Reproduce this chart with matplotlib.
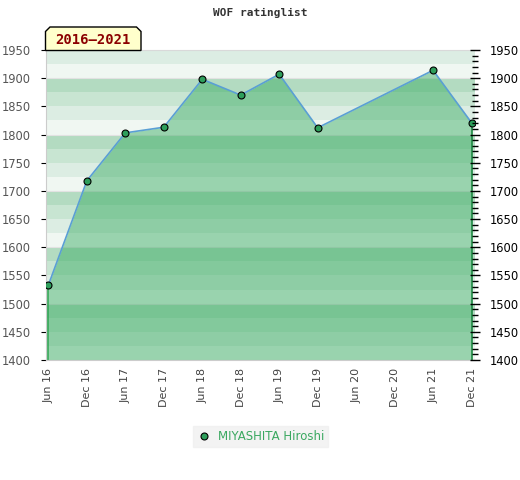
import matplotlib
matplotlib.use("Agg")
import matplotlib.pyplot as plt
from matplotlib.patches import Polygon
from matplotlib.ticker import MultipleLocator

periods = ["Jun 16", "Dec 16", "Jun 17", "Dec 17", "Jun 18", "Dec 18",
           "Jun 19", "Dec 19", "Jun 20", "Dec 20", "Jun 21", "Dec 21"]
data_periods = ["Jun 16", "Dec 16", "Jun 17", "Dec 17", "Jun 18", "Dec 18",
                "Jun 19", "Dec 19", "Jun 21", "Dec 21"]
ratings = [1533, 1718, 1803, 1813, 1898, 1870, 1907, 1812, 1914, 1821]
player = "MIYASHITA Hiroshi"
title = "WOF ratinglist"
range_label = "2016\u20132021"
y_ticks = [1400, 1450, 1500, 1550, 1600, 1650, 1700, 1750, 1800, 1850, 1900, 1950]

W, H = 520, 480
fig = plt.figure(figsize=(W / 100, H / 100), dpi=100)
ax = fig.add_axes([45.7 / W, 1 - 360 / H, (475 - 45.7) / W, (360 - 50) / H])

xs = [periods.index(p) for p in data_periods]
ymin, ymax = 1400, 1950
ax.set_xlim(-0.07, len(periods) - 1 + 0.09)
ax.set_ylim(ymin, ymax)

band_cols = {0: "#f0f7f2", 25: "#dcede3", 50: "#c8e5d2", 75: "#b3dbc1"}
b = ymin
while b < ymax:
    ax.axhspan(b, b + 25, color=band_cols[b % 100], lw=0, zorder=0)
    b += 25
for g in range(ymin, ymax + 1, 100):
    ax.axhline(g, color="#e2e2e2", lw=0.8, zorder=0.5)

ax.fill_between(xs, ratings, ymin, color="#30a85b", alpha=0.45, lw=0, zorder=1)
ax.vlines(xs[0], ymin, ratings[0], color="#2aa34f", lw=1.2, zorder=2)
ax.vlines(xs[-1], ymin, ratings[-1], color="#1f8a44", lw=1.2, zorder=2)
ax.plot(xs, ratings, color="#5a9fd4", lw=1.2, zorder=3)
ax.plot(xs, ratings, ls="none", marker="o", ms=5, mfc="#2e9e5b", mec="black",
        mew=0.8, zorder=4, label=player)

ax.set_xticks(range(len(periods)))
ax.set_xticklabels(periods, rotation=90, fontsize=8, color="#444444")
ax.set_yticks(y_ticks)
ax.tick_params(axis="y", left=False, labelsize=8.3, labelcolor="#555555", pad=7)
ax.tick_params(axis="x", length=0, pad=6)

for s in ["top", "right"]:
    ax.spines[s].set_visible(False)
ax.spines["top"].set_visible(True)
ax.spines["top"].set_color("#d9d9d9")
ax.spines["left"].set_color("#cccccc")
ax.spines["bottom"].set_color("#cccccc")

ax2 = ax.twinx()
ax2.set_ylim(ymin, ymax)
ax2.set_yticks(y_ticks)
ax2.yaxis.set_minor_locator(MultipleLocator(10))
ax2.tick_params(axis="y", which="major", direction="inout", length=7, width=1,
                labelsize=8.3, labelcolor="black", color="black", pad=7)
ax2.tick_params(axis="y", which="minor", direction="inout", length=4, width=1,
                color="black")
for s in ax2.spines.values():
    s.set_visible(False)

fig.text(260 / W, 1 - 13 / H, title, ha="center", va="center",
         family="DejaVu Sans Mono", fontsize=8, fontweight="bold", color="#333333")

l, r, t, bt, c = 45.5, 141, 27, 50.5, 4.5
pts = [(l, bt), (l, t + c), (l + c, t), (r - c, t), (r, t + c), (r, bt)]
poly = Polygon([(x / W, 1 - y / H) for x, y in pts], closed=True,
               transform=fig.transFigure, facecolor="#ffffcc", edgecolor="black",
               lw=1, zorder=5)
fig.add_artist(poly)
fig.text((l + r) / 2 / W, 1 - 40 / H, range_label, ha="center", va="center",
         family="DejaVu Sans Mono", fontsize=10, fontweight="bold",
         color="#8b0000", zorder=6)

leg = fig.legend(loc="center", bbox_to_anchor=(260.5 / W, 1 - 436.5 / H),
                 frameon=True, fontsize=8.5, handletextpad=0.6, borderpad=0.35,
                 handlelength=1.2, fancybox=False)
leg.get_frame().set_facecolor("#f0f0f0")
leg.get_frame().set_edgecolor("#f0f0f0")
for txt in leg.get_texts():
    txt.set_color("#3aa860")

fig.savefig("out.png", dpi=100)
